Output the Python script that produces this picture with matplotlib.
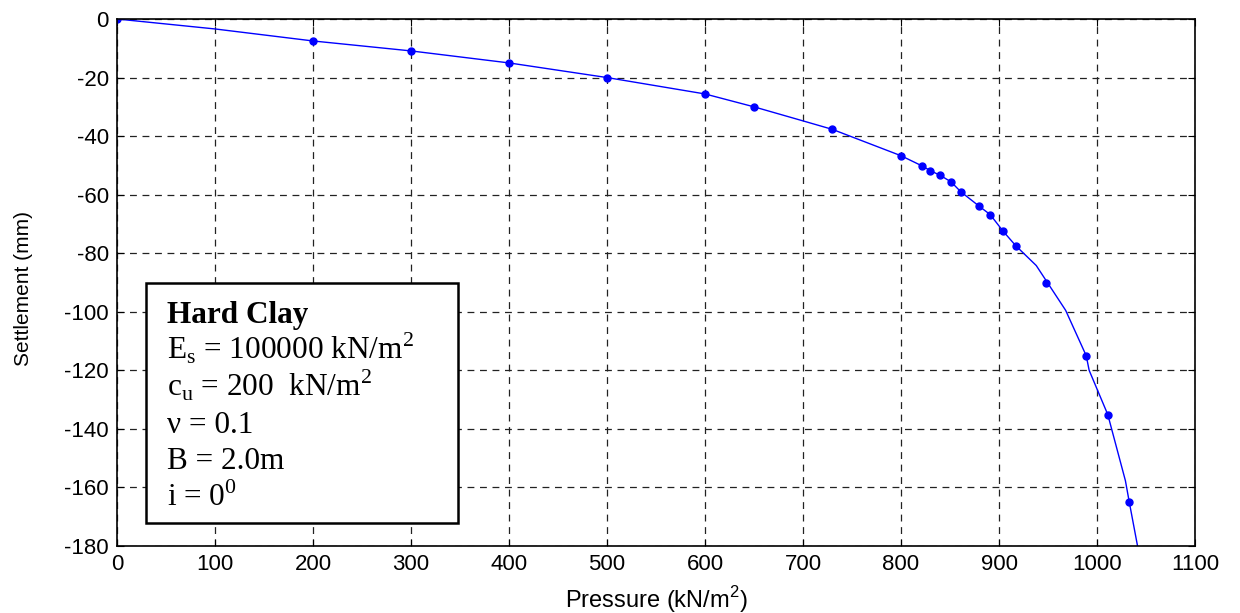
import numpy as np
from matplotlib import pyplot as plt
from matplotlib.patches import Rectangle

# 計測点（マーカー）
pressure = [0, 200, 300, 400, 500, 600, 650, 730, 800, 821, 830, 840, 851, 861,
            880, 891, 904, 917, 948, 989, 1011, 1033]
settlement = [0, -7.5, -10.9, -15, -20, -25.6, -30, -37.7, -46.7, -50.1, -51.8, -53.4, -55.6, -59.0,
              -64.0, -66.8, -72.4, -77.4, -90.1, -115.0, -135.1, -165.1]

# 曲線（線）
line_p = [0, 100, 200, 300, 400, 500, 600, 650, 700, 730, 800, 821, 830, 840, 851, 861,
          880, 891, 904, 917, 938, 968, 989, 992, 1011, 1029, 1033, 1047]
line_s = [0, -3.4, -7.5, -10.9, -15, -20, -25.6, -30, -34.8, -37.7, -46.7, -50.1, -51.8, -53.4, -55.6, -59.0,
          -64.0, -66.8, -72.4, -77.4, -84.2, -99.5, -115.0, -120.0, -135.1, -157.7, -165.1, -190]

box_lines = [r'E$_\mathrm{s}$ = 100000 kN/m$^\mathrm{2}$',
             r'c$_\mathrm{u}$ = 200  kN/m$^\mathrm{2}$',
             'ν = 0.1',
             'B = 2.0m',
             r'i = 0$^\mathrm{0}$']

plt.rcParams['font.family'] = ['Liberation Sans', 'DejaVu Sans']
plt.rcParams['mathtext.fontset'] = 'custom'
plt.rcParams['mathtext.rm'] = 'Liberation Serif'
plt.rcParams['axes.unicode_minus'] = False

fig = plt.figure(figsize=(12.4, 6.13), dpi=100)
ax = fig.add_axes([0.0944, 0.1093, 0.8693, 0.8597])

ax.plot(line_p, line_s, color='#0000ff', lw=1)
ax.plot(pressure, settlement, 'o', color='#0000ff', markersize=5)

ax.set_xlim(0, 1100)
ax.set_ylim(-180, 0)
ax.set_xticks(np.arange(0, 1101, 100))
ax.set_yticks(np.arange(-180, 1, 20))
ax.tick_params(direction='in', top=True, right=True, labelsize=16, length=5)
ax.tick_params(axis='x', pad=6)
ax.tick_params(axis='y', pad=6)
ax.grid(True, color='#222222', linestyle=(0, (5.5, 4.5)), lw=0.9)
for s in ax.spines.values():
    s.set_linewidth(1.2)

ax.set_xlabel('Pressure (kN/m$^\\mathregular{2}$)', fontsize=17)
ax.set_ylabel('Settlement (mm)', fontsize=15)
ax.xaxis.set_label_coords(0.5, -0.072)
ax.yaxis.set_label_coords(-0.078, 0.4877)

# テキストボックス
ax.add_patch(Rectangle((0.0266, 0.0442), 0.2897, 0.4554, transform=ax.transAxes,
                       facecolor='white', edgecolor='k', lw=1.8, zorder=5))
ax.text(0.046, 0.4237, 'Hard Clay', transform=ax.transAxes, family='Liberation Serif',
        fontweight='bold', fontsize=22.5, va='baseline', zorder=6)
for k, t in enumerate(box_lines):
    ax.text(0.046, 0.4237 - 0.0696 * (k + 1), t, transform=ax.transAxes,
            family=['Liberation Serif', 'DejaVu Serif'], fontsize=22.5, va='baseline', zorder=6)

fig.savefig('out.png', dpi=100)
plt.close()
